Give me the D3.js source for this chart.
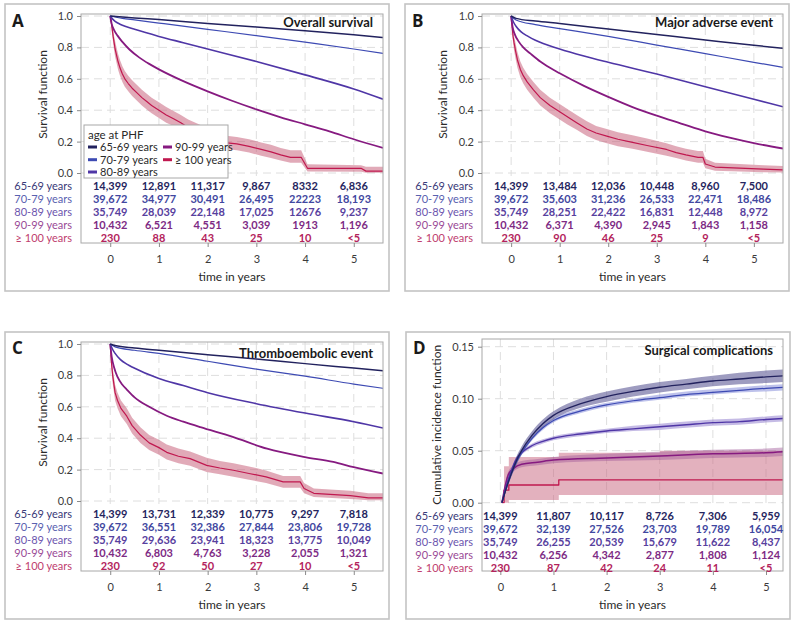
<!DOCTYPE html>
<html><head><meta charset="utf-8">
<script src="https://cdn.jsdelivr.net/npm/d3@7"></script>
<style>body{margin:0;background:#fff;} svg{display:block;font-family:Lato,"Open Sans",sans-serif;}</style>
</head><body><svg id="c" width="794" height="626"></svg>
<script>
// ---------- data ----------
const groups = ["65-69 years","70-79 years","80-89 years","90-99 years","\u2265 100 years"];
const lineColors = ["#22225e","#3d4ab3","#4f36a6","#861a80","#c0184f"];
const valueColors = ["#25255e","#4147a0","#57409e","#7d2a84","#b3235c"];
const labelColors = ["#3a3a78","#5961b0","#6c55ae","#9a4a96","#c0406f"];
const timeTicks = [0,1,2,3,4,5];
const survTicks = [0,0.2,0.4,0.6,0.8,1.0];
const cifTicks = [0,0.05,0.10,0.15];

// Panel A: overall survival
const a65 = [[0,1],[0.5,0.988],[1,0.977],[2,0.953],[3,0.93],[4,0.906],[5,0.88],[5.6,0.863]];
const a70 = [[0,1],[0.25,0.985],[0.5,0.975],[1,0.955],[2,0.915],[3,0.875],[4,0.833],[5,0.79],[5.6,0.762]];
const a80 = [[0,1],[0.05,0.98],[0.1,0.966],[0.2,0.948],[0.35,0.93],[0.5,0.915],[1,0.87],[1.5,0.83],[2,0.79],[3,0.71],[4,0.625],[5,0.535],[5.6,0.47]];
const a90 = [[0,1],[0.03,0.95],[0.08,0.91],[0.15,0.875],[0.25,0.835],[0.4,0.785],[0.6,0.735],[0.8,0.695],[1,0.66],[1.5,0.585],[2,0.52],[2.5,0.46],[3,0.405],[3.5,0.355],[4,0.31],[4.5,0.265],[5,0.215],[5.6,0.16]];
// [time, estimate, lower, upper]
const a100 = [[0,1,1,1],[0.02,0.96,0.93,0.98],[0.04,0.92,0.88,0.95],[0.06,0.87,0.83,0.91],[0.08,0.83,0.78,0.87],[0.1,0.79,0.74,0.84],[0.13,0.75,0.70,0.80],[0.16,0.71,0.66,0.76],[0.2,0.67,0.62,0.72],[0.25,0.63,0.58,0.68],[0.3,0.6,0.55,0.65],[0.37,0.57,0.52,0.62],[0.45,0.54,0.49,0.59],[0.55,0.51,0.46,0.56],[0.65,0.48,0.43,0.53],[0.75,0.455,0.405,0.505],[0.85,0.43,0.38,0.48],[1.0,0.4,0.35,0.45],[1.15,0.37,0.32,0.42],[1.3,0.345,0.30,0.395],[1.45,0.32,0.275,0.37],[1.6,0.29,0.245,0.34],[1.75,0.27,0.225,0.32],[1.9,0.25,0.205,0.30],[2.1,0.22,0.18,0.27],[2.3,0.195,0.155,0.24],[2.6,0.185,0.145,0.23],[2.85,0.17,0.13,0.215],[3.1,0.15,0.11,0.195],[3.3,0.135,0.095,0.18],[3.5,0.115,0.08,0.16],[3.7,0.1,0.065,0.145],[3.92,0.1,0.065,0.145],[4.05,0.03,0.01,0.055],[5.15,0.03,0.008,0.05],[5.25,0.012,0.002,0.04],[5.6,0.012,0.002,0.04]];

// Panel B: major adverse event
const b65 = [[0,1],[0.1,0.985],[0.5,0.968],[1,0.952],[2,0.917],[3,0.882],[4,0.847],[5,0.813],[5.6,0.795]];
const b70 = [[0,1],[0.1,0.975],[0.5,0.945],[1,0.92],[2,0.87],[3,0.815],[4,0.76],[5,0.705],[5.6,0.673]];
const b80 = [[0,1],[0.05,0.96],[0.1,0.935],[0.2,0.9],[0.35,0.87],[0.5,0.845],[1,0.79],[1.5,0.745],[2,0.705],[3,0.63],[4,0.55],[5,0.47],[5.6,0.422]];
const b90 = [[0,1],[0.03,0.93],[0.08,0.88],[0.15,0.84],[0.25,0.8],[0.4,0.76],[0.6,0.71],[0.8,0.67],[1,0.635],[1.5,0.555],[2,0.485],[2.5,0.42],[3,0.365],[3.5,0.315],[4,0.265],[4.5,0.225],[5,0.19],[5.6,0.156]];
const b100 = [[0,1,1,1],[0.02,0.93,0.9,0.96],[0.04,0.87,0.83,0.91],[0.06,0.83,0.78,0.87],[0.09,0.78,0.73,0.83],[0.13,0.72,0.67,0.77],[0.19,0.66,0.61,0.71],[0.25,0.62,0.57,0.67],[0.33,0.58,0.53,0.63],[0.46,0.53,0.48,0.58],[0.6,0.48,0.43,0.53],[0.8,0.43,0.38,0.48],[1.0,0.39,0.34,0.44],[1.15,0.36,0.31,0.41],[1.35,0.32,0.275,0.37],[1.56,0.28,0.235,0.33],[1.75,0.255,0.21,0.30],[1.97,0.235,0.19,0.28],[2.2,0.215,0.17,0.26],[2.5,0.195,0.155,0.24],[2.8,0.175,0.135,0.22],[3.2,0.15,0.11,0.19],[3.4,0.13,0.095,0.17],[3.6,0.115,0.08,0.155],[3.85,0.10,0.065,0.14],[3.95,0.1,0.065,0.14],[4.0,0.057,0.03,0.09],[4.2,0.038,0.015,0.065],[5.2,0.025,0.005,0.05],[5.6,0.02,0.003,0.045]];

// Panel C: thromboembolic event
const c65 = [[0,1],[0.1,0.99],[0.5,0.975],[1,0.96],[2,0.932],[3,0.905],[4,0.875],[5,0.847],[5.6,0.83]];
const c70 = [[0,1],[0.1,0.982],[0.5,0.96],[1,0.94],[2,0.89],[3,0.84],[4,0.795],[5,0.745],[5.6,0.718]];
const c80 = [[0,1],[0.05,0.965],[0.1,0.94],[0.21,0.9],[0.35,0.87],[0.47,0.85],[1,0.78],[1.5,0.735],[2,0.69],[3,0.62],[4,0.56],[5,0.505],[5.6,0.465]];
const c90 = [[0,1],[0.03,0.92],[0.08,0.85],[0.15,0.79],[0.25,0.74],[0.34,0.71],[0.5,0.66],[0.8,0.6],[1.16,0.543],[1.5,0.505],[1.85,0.47],[2.5,0.41],[3.22,0.333],[4,0.28],[4.58,0.249],[5,0.215],[5.6,0.175]];
const c100 = [[0,1,1,1],[0.02,0.9,0.86,0.94],[0.05,0.8,0.75,0.85],[0.1,0.69,0.64,0.74],[0.15,0.64,0.59,0.69],[0.22,0.59,0.54,0.64],[0.34,0.54,0.49,0.59],[0.45,0.48,0.43,0.53],[0.62,0.42,0.37,0.47],[0.8,0.37,0.325,0.42],[1.0,0.34,0.295,0.39],[1.16,0.31,0.265,0.36],[1.4,0.285,0.24,0.335],[1.64,0.27,0.225,0.315],[1.98,0.227,0.185,0.275],[2.25,0.21,0.17,0.255],[2.53,0.196,0.155,0.24],[2.85,0.175,0.135,0.22],[3.2,0.154,0.115,0.195],[3.55,0.122,0.085,0.16],[3.9,0.122,0.085,0.16],[3.98,0.08,0.05,0.115],[4.18,0.049,0.025,0.08],[4.93,0.034,0.012,0.065],[5.3,0.02,0.004,0.05],[5.6,0.02,0.004,0.05]];

// Panel D: surgical complications (cumulative incidence) [time, estimate, lower, upper]
const d65 = [[0.03,0,0,0],[0.1,0.012,0.01,0.014],[0.2,0.027,0.024,0.03],[0.3,0.04,0.036,0.044],[0.4,0.05,0.046,0.054],[0.6,0.065,0.061,0.069],[0.8,0.076,0.072,0.08],[1,0.084,0.08,0.088],[1.5,0.095,0.091,0.1],[2,0.102,0.097,0.107],[2.5,0.107,0.102,0.112],[3,0.111,0.106,0.116],[3.5,0.114,0.109,0.119],[4,0.117,0.112,0.122],[4.5,0.119,0.114,0.125],[5,0.121,0.115,0.127],[5.33,0.122,0.116,0.128]];
const d70 = [[0.03,0,0,0],[0.1,0.012,0.011,0.013],[0.2,0.027,0.025,0.029],[0.3,0.039,0.037,0.041],[0.4,0.048,0.046,0.05],[0.6,0.062,0.06,0.064],[0.8,0.072,0.07,0.074],[1,0.079,0.077,0.081],[1.5,0.088,0.086,0.09],[2,0.094,0.092,0.096],[2.5,0.098,0.096,0.1],[3,0.101,0.099,0.104],[3.5,0.104,0.102,0.107],[4,0.106,0.104,0.109],[4.5,0.108,0.106,0.111],[5,0.11,0.107,0.113],[5.33,0.111,0.108,0.114]];
const d80 = [[0.03,0,0,0],[0.1,0.014,0.012,0.016],[0.2,0.03,0.028,0.032],[0.3,0.042,0.04,0.044],[0.4,0.048,0.046,0.05],[0.6,0.055,0.053,0.057],[0.8,0.059,0.057,0.061],[1,0.062,0.06,0.064],[1.5,0.066,0.064,0.068],[2,0.069,0.067,0.071],[2.5,0.071,0.069,0.074],[3,0.073,0.07,0.076],[3.5,0.075,0.072,0.078],[4,0.077,0.074,0.08],[4.5,0.078,0.075,0.081],[5,0.08,0.077,0.083],[5.33,0.081,0.078,0.084]];
const d90 = [[0.03,0,0,0],[0.1,0.018,0.015,0.021],[0.15,0.027,0.024,0.03],[0.25,0.033,0.03,0.036],[0.4,0.037,0.034,0.04],[0.7,0.039,0.036,0.042],[1,0.041,0.038,0.044],[2,0.043,0.04,0.047],[3,0.045,0.041,0.049],[4,0.047,0.043,0.051],[5,0.048,0.044,0.052],[5.33,0.049,0.045,0.053]];
const d100 = [[0.03,0,0,0],[0.07,0.012,0,0.035],[0.16,0.017,0.0025,0.044],[1.1,0.022,0.0075,0.048],[3,0.022,0.0075,0.05],[5.33,0.022,0.0075,0.054]];

// numbers at risk (rows = groups, columns = years 0..5)
const riskA = [["14,399","12,891","11,317","9,867","8332","6,836"],["39,672","34,977","30,491","26,495","22223","18,193"],["35,749","28,039","22,148","17,025","12676","9,237"],["10,432","6,521","4,551","3,039","1913","1,196"],["230","88","43","25","10","<5"]];
const riskB = [["14,399","13,484","12,036","10,448","8,960","7,500"],["39,672","35,603","31,236","26,533","22,471","18,486"],["35,749","28,251","22,422","16,831","12,448","8,972"],["10,432","6,371","4,390","2,945","1,843","1,158"],["230","90","46","25","9","<5"]];
const riskC = [["14,399","13,731","12,339","10,775","9,297","7,818"],["39,672","36,551","32,386","27,844","23,806","19,728"],["35,749","29,636","23,941","18,323","13,775","10,049"],["10,432","6,803","4,763","3,228","2,055","1,321"],["230","92","50","27","10","<5"]];
const riskD = [["14,399","11,807","10,117","8,726","7,306","5,959"],["39,672","32,139","27,526","23,703","19,789","16,054"],["35,749","26,255","20,539","15,679","11,622","8,437"],["10,432","6,256","4,342","2,877","1,808","1,124"],["230","87","42","24","11","<5"]];

// ---------- drawing ----------
const svg = d3.select("#c");
let clipId = 0;
const curveOf = k => k === "step" ? d3.curveStepAfter : k === "linear" ? d3.curveLinear : d3.curveMonotoneX;

function panel(cfg) {
  const g = svg.append("g").attr("transform", `translate(${cfg.bx},${cfg.by})`);
  g.append("rect").attr("x",0).attr("y",0).attr("width",cfg.bw).attr("height",cfg.bh)
    .attr("fill","#fff").attr("stroke","#c4c4c4").attr("stroke-width",1.6);
  const x = d3.scaleLinear().domain(cfg.xd).range([cfg.pl, cfg.pr]);
  const y = d3.scaleLinear().domain([0, cfg.ytop]).range([cfg.y0, cfg.y1]);

  // grid
  const grid = g.append("g").attr("stroke","#dedede").attr("stroke-width",1).attr("stroke-dasharray","8,5");
  grid.selectAll("line.h").data(cfg.yticks).join("line")
    .attr("x1",cfg.pl).attr("x2",cfg.pr).attr("y1",d=>y(d)).attr("y2",d=>y(d));
  grid.selectAll("line.v").data(timeTicks).join("line")
    .attr("x1",d=>x(d)).attr("x2",d=>x(d)).attr("y1",cfg.pt).attr("y2",cfg.y0+3);

  const id = "clip"+(clipId++);
  g.append("clipPath").attr("id",id).append("rect")
    .attr("x",cfg.pl).attr("y",cfg.pt).attr("width",cfg.pr-cfg.pl).attr("height",cfg.y0-cfg.pt+1);
  const plot = g.append("g").attr("clip-path",`url(#${id})`);

  // bands
  cfg.bands.forEach(b => {
    plot.append("path").datum(b.data)
      .attr("fill",b.fill).attr("fill-opacity",b.op)
      .attr("d", d3.area().curve(curveOf(b.curve))
        .x(d=>x(d[0])).y0(d=>y(d[2])).y1(d=>y(d[3])));
  });
  // lines
  cfg.series.forEach(s => {
    plot.append("path").datum(s.data)
      .attr("fill","none").attr("stroke",s.color).attr("stroke-width",s.w)
      .attr("stroke-linejoin","round")
      .attr("d", d3.line().curve(curveOf(s.curve))
        .x(d=>x(d[0])).y(d=>y(d[1])));
  });

  // frame
  g.append("rect").attr("x",cfg.pl).attr("y",cfg.pt).attr("width",cfg.pr-cfg.pl).attr("height",cfg.pb-cfg.pt)
    .attr("fill","none").attr("stroke","#a8a8a8").attr("stroke-width",1);

  // axes
  const ya = g.append("g").attr("transform",`translate(${cfg.pl},0)`)
    .call(d3.axisLeft(y).tickValues(cfg.yticks).tickSize(4).tickPadding(4).tickFormat(cfg.yfmt));
  ya.select(".domain").remove();
  ya.selectAll(".tick line").attr("stroke","#8a8a8a");
  ya.selectAll(".tick text").attr("font-family","Lato, sans-serif").attr("font-size",11).attr("fill","#3a3a3a");

  const xa = g.append("g").attr("transform",`translate(0,${cfg.pb})`)
    .call(d3.axisBottom(x).tickValues(timeTicks).tickSize(4).tickPadding(8).tickFormat(d3.format("d")));
  xa.select(".domain").remove();
  xa.selectAll(".tick line").attr("stroke","#8a8a8a");
  xa.selectAll(".tick text").attr("font-family","Lato, sans-serif").attr("font-size",11).attr("fill","#3a3a3a");

  // axis titles
  g.append("text").attr("x",(cfg.pl+cfg.pr)/2).attr("y",cfg.pb+38).attr("text-anchor","middle")
    .attr("font-size",12).attr("fill","#2a2a2a").text("time in years");
  g.append("text").attr("transform",`translate(${cfg.ylx},${(cfg.y0+cfg.y1)/2}) rotate(-90)`)
    .attr("text-anchor","middle").attr("dy","0.35em").attr("font-size",12).attr("fill","#2a2a2a").text(cfg.ylab);

  // at-risk table
  cfg.risk.forEach((row,i) => {
    const ry = cfg.y0 + 13.5 + i*12.9;
    g.append("text").attr("x",cfg.pl-9).attr("y",ry).attr("dy","0.35em").attr("text-anchor","end")
      .attr("font-size",11).attr("fill",labelColors[i]).text(groups[i]);
    row.forEach((v,j) => {
      g.append("text").attr("x",x(timeTicks[j])).attr("y",ry).attr("dy","0.35em").attr("text-anchor","middle")
        .attr("font-size",11).attr("font-weight",700).attr("fill",valueColors[i]).text(v);
    });
  });

  // panel letter and title
  g.append("text").attr("x",7).attr("y",cfg.letterY).attr("font-family","'Open Sans', sans-serif")
    .attr("font-size",17).attr("font-weight",700).attr("fill","#1a1a1a").text(cfg.letter);
  g.append("text").attr("x",cfg.pr-10).attr("y",cfg.titleY).attr("text-anchor","end")
    .attr("font-size",13).attr("font-weight",700).attr("fill","#1a1a1a").text(cfg.title);

  return {g,x,y};
}

function survSeries(s65,s70,s80,s90,s100) {
  return [
    {data:s100,color:lineColors[4],w:1.2,curve:"linear"},
    {data:s90,color:lineColors[3],w:1.8},
    {data:s80,color:lineColors[2],w:1.6},
    {data:s70,color:lineColors[1],w:1.2},
    {data:s65,color:lineColors[0],w:1.5}
  ];
}
const redBand = {fill:"#c8647e",op:0.55,curve:"linear"};
const fmt1 = d3.format(".1f"), fmt2 = d3.format(".2f");

const base = {bw:384, bh:287, pl:76, pr:378, pt:10, y0:169, y1:12, pb:239, ylx:38, ytop:1,
  xd:[-0.6,5.6], yticks:survTicks, yfmt:fmt1, ylab:"Survival function", letterY:23, titleY:23};

const A = panel(Object.assign({}, base, {bx:5, by:4, letter:"A", title:"Overall survival", risk:riskA,
  bands:[Object.assign({data:a100},redBand)], series:survSeries(a65,a70,a80,a90,a100)}));
panel(Object.assign({}, base, {bx:405, by:4, pl:77, letter:"B", title:"Major adverse event", risk:riskB,
  bands:[Object.assign({data:b100},redBand)], series:survSeries(b65,b70,b80,b90,b100)}));
panel(Object.assign({}, base, {bx:5, by:332, letter:"C", title:"Thromboembolic event", titleY:26, letterY:22, risk:riskC,
  bands:[Object.assign({data:c100},redBand)], series:survSeries(c65,c70,c80,c90,c100)}));
panel(Object.assign({}, base, {bx:406, by:332, pl:76, pr:377, pt:7, y0:170.7, y1:14.7, ytop:0.15, ylx:31,
  xd:[-0.345,5.32], yticks:cifTicks, yfmt:fmt2, ylab:"Cumulative incidence function", letter:"D", letterY:22,
  title:"Surgical complications", titleY:23, risk:riskD,
  bands:[
    {data:d100,fill:"#c8647e",op:0.5,curve:"step"},
    {data:d90,fill:"#a0589a",op:0.45},
    {data:d80,fill:"#8c78cc",op:0.5},
    {data:d70,fill:"#7d86d8",op:0.5},
    {data:d65,fill:"#5d5a96",op:0.6}
  ],
  series:[
    {data:d100,color:lineColors[4],w:1.3,curve:"step"},
    {data:d90,color:lineColors[3],w:1.5},
    {data:d80,color:lineColors[2],w:1.4},
    {data:d70,color:lineColors[1],w:1.2},
    {data:d65,color:lineColors[0],w:1.4}
  ]}));

// legend (panel A)
const lg = A.g.append("g").attr("transform","translate(79,121)");
lg.append("rect").attr("width",144).attr("height",53).attr("fill","#fff").attr("stroke","#a8a8a8").attr("stroke-width",1);
lg.append("text").attr("x",4).attr("y",14).attr("font-size",11.5).attr("fill","#2a2a2a").text("age at PHF");
const legPos = [[4,26],[4,38.7],[4,51],[79,26],[79,38.7]];
groups.forEach((name,i) => {
  const [lx,ly] = legPos[i];
  lg.append("line").attr("x1",lx).attr("x2",lx+9).attr("y1",ly-4).attr("y2",ly-4)
    .attr("stroke",lineColors[i]).attr("stroke-width",3);
  lg.append("text").attr("x",lx+12).attr("y",ly).attr("font-size",11).attr("fill","#2a2a2a").text(name);
});
</script>
</body></html>
